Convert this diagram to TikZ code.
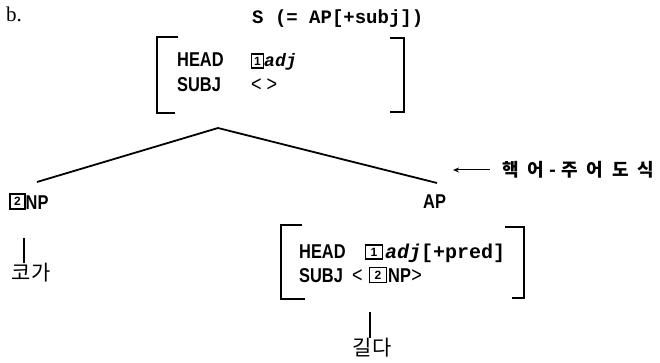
\documentclass[tikz,border=0pt]{standalone}
\usepackage{fontspec}
\setmainfont{Liberation Sans}
\newfontfamily\condfont{Liberation Sans}[FakeStretch=0.82]
\newfontfamily\monofont{Liberation Mono}
\newfontfamily\serifont{Liberation Serif}
\newfontfamily\krfont{Noto Sans CJK KR}
\usetikzlibrary{arrows.meta}
\tikzset{
  lbl/.style={inner sep=0pt, anchor=base west, font=\condfont\bfseries\fontsize{20}{22}\selectfont},
  anglbl/.style={inner sep=0pt, anchor=base west, font=\condfont\fontsize{22}{24}\selectfont},
  monolbl/.style={inner sep=0pt, anchor=base west, font=\monofont\bfseries\fontsize{19}{21}\selectfont},
  monobig/.style={inner sep=0pt, anchor=base west, font=\monofont\bfseries\fontsize{20}{22}\selectfont},
  seriflbl/.style={inner sep=0pt, anchor=base west, font=\serifont\fontsize{21}{24}\selectfont},
  numbox/.style={draw, line width=1.4pt, inner sep=0pt, minimum width=12pt, minimum height=14pt, font=\bfseries\fontsize{12}{12}\selectfont},
  krlbl/.style={inner sep=0pt, font=\krfont\fontsize{21}{24}\selectfont},
  krbold/.style={inner sep=0pt, anchor=west, font=\krfont\bfseries\fontsize{18}{20}\selectfont},
  brk/.style={line width=1.6pt},
  treeline/.style={line width=1.8pt},
  vline/.style={line width=1.4pt},
  arrowline/.style={line width=1pt, -{Stealth[length=6pt,width=5pt]}},
}
\begin{document}
\begin{tikzpicture}[x=1pt,y=-1pt]
\useasboundingbox[fill=white] (0,0) rectangle (660,363);

% heading
\node[seriflbl] (lab) at (6,22) {b.};
\node[monolbl] (S) at (252,24) {S (= AP[+subj])};

% top AVM
\node[lbl] (h1) at (177,67) {HEAD};
\node[numbox] (n1) at (257.5,61) {1};
\node[monolbl, font=\monofont\bfseries\itshape\fontsize{18}{20}\selectfont] (adj1) at (264,67) {adj};
\node[lbl] (s1) at (177,92) {SUBJ};
\node[anglbl] (e1) at (251,92) {<\hspace{5pt}>};
\draw[brk] (178,37) -- (157,37) -- (157,113) -- (175,113);
\draw[brk] (390,38) -- (404,38) -- (404,112) -- (390,112);

% tree
\coordinate (apex) at (218,128);
\coordinate (npTop) at (37,182);
\coordinate (apTop) at (437,183);
\draw[treeline] (npTop) -- (apex) -- (apTop);

\node[numbox, minimum width=15pt, minimum height=15pt] (n2) at (17.5,201.5) {2};
\node[lbl] (np) at (25.5,209) {NP};
\node[lbl] (ap) at (423,208) {AP};

% schema label
\node[krbold] (schema) at (502,170) {핵\hspace{9pt}어\hspace{5pt}-\hspace{5pt}주\hspace{9pt}어\hspace{9pt}도\hspace{9pt}식};
\coordinate (arrS) at (490,170);
\coordinate (arrE) at (453,170);
\draw[arrowline] (arrS) -- (arrE);

% NP daughter
\node[krlbl] (koga) at (31,273) {코가};
\coordinate (npFoot) at (24,238);
\draw[vline] (npFoot) -- (npFoot |- koga.north);

% lower AVM
\node[lbl] (h2) at (299,258) {HEAD};
\node[numbox, minimum width=17pt] (n3) at (374,252) {1};
\node[monobig] (adj2) at (385,258) {{\itshape adj}[+pred]};
\node[lbl] (s2) at (299,282) {SUBJ};
\node[anglbl] (lt) at (352,282) {<};
\node[numbox, minimum width=17pt, minimum height=15pt] (n4) at (378,275) {2};
\node[lbl] (np2) at (388,282) {NP};
\node[anglbl] (gt) at (np2.base east) {>};
\draw[brk] (302,225) -- (281,225) -- (281,299) -- (305,299);
\draw[brk] (505,227) -- (524,227) -- (524,298) -- (512,298);

% AP daughter
\node[krlbl] (gilda) at (372,348) {길다};
\coordinate (apFoot) at (370,312);
\draw[vline] (apFoot) -- (apFoot |- gilda.north);
\end{tikzpicture}
\end{document}
